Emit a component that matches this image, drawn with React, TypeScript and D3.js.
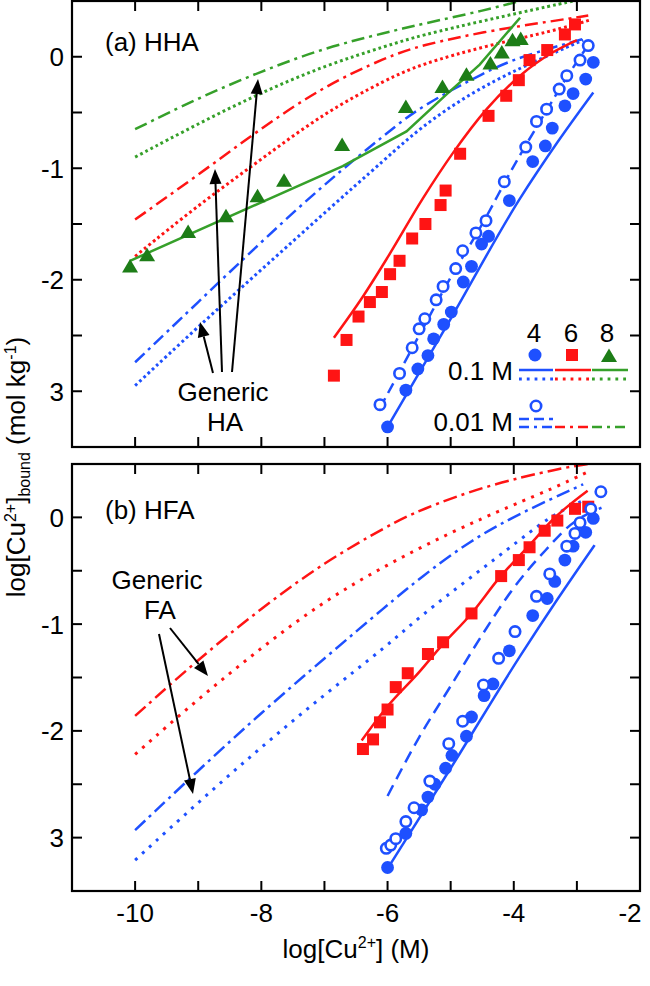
import React from 'react';
import * as d3 from 'd3';

type P = [number, number];

// ---------- axis ticks ----------
const xMinorTicks = [-10, -9, -8, -7, -6, -5, -4, -3];
const xLabelTicks = [-10, -8, -6, -4, -2];
const yMinorTicks = [0, -0.5, -1, -1.5, -2, -2.5, -3];
const yLabelTicks = [0, -1, -2, -3];
const yLabelTexts = ['0', '-1', '-2', '3'];

// ---------- (a) HHA data ----------
const hhaPH4_01: P[] = [[-6.0,-3.32],[-5.71,-2.99],[-5.52,-2.80],[-5.36,-2.68],[-5.27,-2.53],[-5.11,-2.40],[-4.99,-2.29],[-4.80,-2.02],[-4.67,-1.88],[-4.51,-1.68],[-4.40,-1.61],[-4.07,-1.29],[-3.70,-0.94],[-3.50,-0.80],[-3.39,-0.64],[-3.19,-0.44],[-3.06,-0.33],[-2.86,-0.20],[-2.74,-0.05]];
const hhaPH4_001: P[] = [[-6.12,-3.12],[-5.81,-2.84],[-5.61,-2.61],[-5.50,-2.44],[-5.41,-2.35],[-5.23,-2.18],[-5.12,-2.06],[-4.92,-1.90],[-4.81,-1.74],[-4.60,-1.58],[-4.44,-1.47],[-4.15,-1.12],[-3.81,-0.81],[-3.64,-0.58],[-3.48,-0.47],[-3.28,-0.29],[-3.16,-0.17],[-2.95,-0.03],[-2.82,0.10]];
const hhaPH6_01: P[] = [[-6.85,-2.86],[-6.65,-2.54],[-6.46,-2.33],[-6.28,-2.20],[-6.09,-2.11],[-5.96,-1.95],[-5.81,-1.83],[-5.61,-1.63],[-5.40,-1.50],[-5.16,-1.33],[-5.08,-1.20],[-4.85,-0.87],[-4.40,-0.53],[-4.12,-0.35],[-3.92,-0.21],[-3.75,-0.03],[-3.47,0.06],[-3.19,0.20],[-3.03,0.29]];
const hhaPH8_01: P[] = [[-10.08,-1.89],[-9.81,-1.79],[-9.16,-1.58],[-8.56,-1.44],[-8.06,-1.26],[-7.64,-1.12],[-6.72,-0.80],[-5.71,-0.46],[-5.13,-0.28],[-4.75,-0.17],[-4.37,-0.07],[-4.19,0.03],[-4.02,0.14],[-3.89,0.15]];

const hhaFit4_01: P[] = [[-6.0,-3.32],[-5.0,-2.35],[-3.9,-1.27],[-3.3,-0.76],[-2.74,-0.32]];
const hhaFit4_001: P[] = [[-6.12,-3.15],[-5.5,-2.5],[-5.0,-1.98],[-4.5,-1.5],[-4.0,-0.98],[-3.5,-0.5],[-3.2,-0.22],[-2.85,0.08]];
const hhaFit6_01: P[] = [[-6.85,-2.52],[-6.39,-2.15],[-6.0,-1.80],[-5.44,-1.27],[-4.96,-0.86],[-4.43,-0.47],[-3.90,-0.17],[-3.38,0.04],[-3.0,0.15]];
const hhaFit8_01: P[] = [[-10.08,-1.83],[-6.71,-0.98],[-5.7,-0.67],[-5.07,-0.34],[-4.54,-0.07],[-3.9,0.35]];

const hhaGen4_01: P[] = [[-10,-2.95],[-9,-2.42],[-8,-1.91],[-7,-1.40],[-6,-0.90],[-5.49,-0.64],[-4.7,-0.33],[-3.9,-0.10],[-3.22,0.07],[-2.9,0.15]];
const hhaGen4_001: P[] = [[-10,-2.74],[-9,-2.2],[-8,-1.66],[-7,-1.14],[-6,-0.68],[-5.49,-0.45],[-4.43,-0.13],[-3.9,0.0],[-2.9,0.16]];
const hhaGen6_01: P[] = [[-10,-1.79],[-9,-1.33],[-8,-0.92],[-7,-0.50],[-6,-0.2],[-5.49,-0.07],[-4.43,0.10],[-3.38,0.23],[-2.79,0.33]];
const hhaGen6_001: P[] = [[-10,-1.46],[-9,-1.06],[-8,-0.64],[-7,-0.26],[-6,0.0],[-5.49,0.1],[-4.43,0.23],[-3.38,0.32],[-2.82,0.37]];
const hhaGen8_01: P[] = [[-10,-0.9],[-9,-0.6],[-8,-0.32],[-7,-0.08],[-6,0.1],[-5.49,0.19],[-4.43,0.33],[-3.38,0.46],[-2.9,0.52]];
const hhaGen8_001: P[] = [[-10,-0.65],[-9,-0.37],[-8,-0.13],[-7,0.08],[-6,0.22],[-5.49,0.29],[-4.43,0.42],[-3.9,0.5],[-3.5,0.56]];

// ---------- (b) HFA data ----------
const hfaPH4_01: P[] = [[-6.0,-3.28],[-5.71,-2.96],[-5.46,-2.74],[-5.36,-2.62],[-5.25,-2.50],[-5.08,-2.35],[-4.98,-2.23],[-4.75,-2.05],[-4.67,-1.87],[-4.47,-1.67],[-4.33,-1.56],[-4.07,-1.25],[-3.70,-0.92],[-3.47,-0.76],[-3.35,-0.60],[-3.19,-0.40],[-3.06,-0.27],[-2.86,-0.14],[-2.74,-0.01]];
const hfaPH4_001: P[] = [[-6.02,-3.10],[-5.95,-3.07],[-5.87,-3.01],[-5.71,-2.85],[-5.58,-2.72],[-5.33,-2.47],[-5.03,-2.12],[-4.81,-1.91],[-4.48,-1.57],[-4.24,-1.32],[-3.98,-1.07],[-3.64,-0.74],[-3.43,-0.53],[-3.16,-0.27],[-3.03,-0.15],[-2.95,-0.05],[-2.78,0.08],[-2.62,0.24]];
const hfaPH6_01: P[] = [[-6.39,-2.17],[-6.23,-2.08],[-6.12,-1.92],[-6.0,-1.80],[-5.87,-1.59],[-5.68,-1.46],[-5.36,-1.28],[-5.12,-1.17],[-4.67,-0.90],[-4.20,-0.55],[-3.92,-0.40],[-3.75,-0.28],[-3.51,-0.125],[-3.31,-0.03],[-3.03,0.08],[-2.82,0.10]];

const hfaFit4_01: P[] = [[-6.0,-3.29],[-5.0,-2.35],[-3.9,-1.30],[-3.3,-0.76],[-2.72,-0.26]];
const hfaFit4_001: P[] = [[-6.0,-2.61],[-5.5,-2.06],[-5.0,-1.58],[-4.5,-1.10],[-4.0,-0.66],[-3.5,-0.31],[-3.1,-0.07],[-2.61,0.09]];
const hfaFit6_01: P[] = [[-6.41,-2.09],[-6.0,-1.77],[-5.5,-1.45],[-5.17,-1.22],[-4.67,-0.90],[-4.22,-0.56],[-3.75,-0.26],[-3.38,-0.02],[-2.83,0.25]];

const hfaGen4_01: P[] = [[-10,-3.21],[-9,-2.67],[-8,-2.15],[-7,-1.66],[-6,-1.2],[-5.49,-0.93],[-4.7,-0.57],[-3.9,-0.21],[-3.38,0.03],[-2.85,0.17]];
const hfaGen4_001: P[] = [[-10,-2.93],[-9,-2.37],[-8,-1.83],[-7,-1.32],[-6,-0.82],[-5.49,-0.57],[-4.7,-0.22],[-3.9,0.04],[-2.9,0.31]];
const hfaGen6_01: P[] = [[-10,-2.22],[-9,-1.70],[-8,-1.22],[-7,-0.78],[-6,-0.44],[-5,-0.14],[-4,0.12],[-3.38,0.27],[-2.85,0.42]];
const hfaGen6_001: P[] = [[-10,-1.86],[-9,-1.33],[-8,-0.85],[-7,-0.42],[-6,-0.08],[-5.49,0.07],[-4.43,0.30],[-3.27,0.46],[-2.82,0.5]];

// ---------- styling ----------
const FONT = "'Liberation Sans', Arial, Helvetica, sans-serif";
const FS = 26;
const SFS = 16;
const BLUE = '#1e50ff';
const RED = '#ff1414';
const GREEN = '#36a02a';
const GREEN_M = '#1d7d17';
const LW = 2.5;
const DW = 3;
const DOT_A = '2.8,3';
const DOT_B = '3,6.5';
const DASHDOT = '13,5,3,5';
const DASH = '11,6';

const X0 = 72, X1 = 640;
const x = d3.scaleLinear().domain([-11, -2]).range([X0, X1]);
const yA = d3.scaleLinear().domain([-3.5, 0.5]).range([447, 1]);
const yB = d3.scaleLinear().domain([-3.5, 0.5]).range([891, 464]);

type Scale = d3.ScaleLinear<number, number>;
type CurveKind = 'linear' | 'mono' | 'basis';

function Curve({ data, y, color, dash, kind = 'mono', width = LW }: { data: P[]; y: Scale; color: string; dash?: string; kind?: CurveKind; width?: number }) {
  const c = kind === 'linear' ? d3.curveLinear : kind === 'basis' ? d3.curveBasis : d3.curveMonotoneX;
  const gen = d3.line<P>().x(d => x(d[0])).y(d => y(d[1])).curve(c);
  return <path d={gen(data) || ''} fill="none" stroke={color} strokeWidth={width} strokeDasharray={dash} />;
}

const triPath = 'M0,-8.5L8,5L-8,5Z';

function Markers({ data, y, kind }: { data: P[]; y: Scale; kind: 'dot' | 'ring' | 'sq' | 'tri' }) {
  return (
    <g>
      {data.map((d, i) => {
        const cx = x(d[0]), cy = y(d[1]);
        if (kind === 'dot') return <circle key={i} cx={cx} cy={cy} r={6.4} fill={BLUE} />;
        if (kind === 'ring') return <circle key={i} cx={cx} cy={cy} r={5.2} fill="white" stroke={BLUE} strokeWidth={2.6} />;
        if (kind === 'sq') return <rect key={i} x={cx - 6} y={cy - 6} width={12} height={12} fill={RED} />;
        return <path key={i} d={triPath} transform={`translate(${cx},${cy})`} fill={GREEN_M} />;
      })}
    </g>
  );
}

function Frame({ y, showLabels, top, bottom }: { y: Scale; showLabels: boolean; top: number; bottom: number }) {
  const L = 10;
  return (
    <g>
      {xMinorTicks.map(t => (
        <g key={'x' + t}>
          <line x1={x(t)} x2={x(t)} y1={top} y2={top + L} stroke="black" strokeWidth={2} />
          <line x1={x(t)} x2={x(t)} y1={bottom} y2={bottom - L} stroke="black" strokeWidth={2} />
        </g>
      ))}
      {yMinorTicks.map(t => (
        <g key={'y' + t}>
          <line x1={X0} x2={X0 + L} y1={y(t)} y2={y(t)} stroke="black" strokeWidth={2} />
          <line x1={X1} x2={X1 - L} y1={y(t)} y2={y(t)} stroke="black" strokeWidth={2} />
        </g>
      ))}
      {yLabelTicks.map((t, i) => (
        <text key={'yl' + t} x={64} y={y(t) + 9.5} textAnchor="end" fontFamily={FONT} fontSize={FS}>{yLabelTexts[i]}</text>
      ))}
      {showLabels && xLabelTicks.map(t => {
        const px = Math.min(x(t), 630);
        return <text key={'xl' + t} x={px} y={bottom + 31} textAnchor="middle" fontFamily={FONT} fontSize={FS}>{String(t)}</text>;
      })}
      <rect x={X0} y={top} width={X1 - X0} height={bottom - top} fill="none" stroke="black" strokeWidth={2.2} />
    </g>
  );
}

function Arrow({ x1, y1, x2, y2 }: { x1: number; y1: number; x2: number; y2: number }) {
  const a = Math.atan2(y2 - y1, x2 - x1);
  const hl = 15, hw = 6;
  const bx = x2 - hl * Math.cos(a), by = y2 - hl * Math.sin(a);
  const px = -Math.sin(a) * hw, py = Math.cos(a) * hw;
  return (
    <g>
      <line x1={x1} y1={y1} x2={bx} y2={by} stroke="black" strokeWidth={2} />
      <path d={`M${x2},${y2}L${bx + px},${by + py}L${bx - px},${by - py}Z`} fill="black" />
    </g>
  );
}

export default function App() {
  return (
    <svg width={650} height={986} style={{ position: 'absolute', left: 0, top: 0, background: 'white' }}>
      <defs>
        <clipPath id="clipA"><rect x={X0} y={1} width={X1 - X0} height={446} /></clipPath>
        <clipPath id="clipB"><rect x={X0} y={464} width={X1 - X0} height={427} /></clipPath>
      </defs>

      {/* ---------- panel (a) ---------- */}
      <g clipPath="url(#clipA)">
        <Curve data={hhaGen8_001} y={yA} color={GREEN} dash={DASHDOT} kind="basis" />
        <Curve data={hhaGen8_01} y={yA} color={GREEN} dash={DOT_A} width={DW} kind="basis" />
        <Curve data={hhaGen6_001} y={yA} color={RED} dash={DASHDOT} kind="basis" />
        <Curve data={hhaGen6_01} y={yA} color={RED} dash={DOT_A} width={DW} kind="basis" />
        <Curve data={hhaGen4_001} y={yA} color={BLUE} dash={DASHDOT} kind="basis" />
        <Curve data={hhaGen4_01} y={yA} color={BLUE} dash={DOT_A} width={DW} kind="basis" />
        <Curve data={hhaFit8_01} y={yA} color={GREEN} kind="linear" />
        <Curve data={hhaFit6_01} y={yA} color={RED} />
        <Curve data={hhaFit4_01} y={yA} color={BLUE} />
        <Curve data={hhaFit4_001} y={yA} color={BLUE} dash={DASH} />
        <Markers data={hhaPH8_01} y={yA} kind="tri" />
        <Markers data={hhaPH6_01} y={yA} kind="sq" />
        <Markers data={hhaPH4_01} y={yA} kind="dot" />
        <Markers data={hhaPH4_001} y={yA} kind="ring" />
      </g>
      <Frame y={yA} showLabels={false} top={1} bottom={447} />
      <text x={105} y={51} fontFamily={FONT} fontSize={FS}>(a) HHA</text>
      <text textAnchor="middle" fontFamily={FONT} fontSize={FS}>
        <tspan x={223} y={401}>Generic</tspan>
        <tspan x={225} y={431}>HA</tspan>
      </text>
      <Arrow x1={213} y1={373} x2={200} y2={322} />
      <Arrow x1={222} y1={372} x2={215} y2={169} />
      <Arrow x1={232} y1={372} x2={258} y2={79} />

      {/* legend */}
      <g fontFamily={FONT} fontSize={FS}>
        <text x={534} y={342} textAnchor="middle">4</text>
        <text x={571} y={342} textAnchor="middle">6</text>
        <text x={607} y={342} textAnchor="middle">8</text>
        <text x={513} y={380} textAnchor="end">0.1 M</text>
        <text x={513} y={431} textAnchor="end">0.01 M</text>
      </g>
      <circle cx={535} cy={355} r={6.5} fill={BLUE} />
      <rect x={566} y={349} width={12} height={12} fill={RED} />
      <path d={triPath} transform="translate(609,357)" fill={GREEN_M} />
      <circle cx={536} cy={406} r={5.2} fill="white" stroke={BLUE} strokeWidth={2.6} />
      <line x1={519} x2={553} y1={370} y2={370} stroke={BLUE} strokeWidth={LW} />
      <line x1={555} x2={591} y1={370} y2={370} stroke={RED} strokeWidth={LW} />
      <line x1={592} x2={628} y1={370} y2={370} stroke={GREEN} strokeWidth={LW} />
      <line x1={519} x2={553} y1={379} y2={379} stroke={BLUE} strokeWidth={DW} strokeDasharray="2.8,5" />
      <line x1={555} x2={591} y1={379} y2={379} stroke={RED} strokeWidth={DW} strokeDasharray="2.8,5" />
      <line x1={592} x2={628} y1={379} y2={379} stroke={GREEN} strokeWidth={DW} strokeDasharray="2.8,5" />
      <line x1={519} x2={553} y1={419} y2={419} stroke={BLUE} strokeWidth={LW} strokeDasharray="10,5" />
      <line x1={519} x2={553} y1={427} y2={427} stroke={BLUE} strokeWidth={LW} strokeDasharray="10,5,3,5" />
      <line x1={555} x2={591} y1={427} y2={427} stroke={RED} strokeWidth={LW} strokeDasharray="10,5,3,5" />
      <line x1={592} x2={628} y1={427} y2={427} stroke={GREEN} strokeWidth={LW} strokeDasharray="10,5,3,5" />

      {/* ---------- panel (b) ---------- */}
      <g clipPath="url(#clipB)">
        <Curve data={hfaGen6_001} y={yB} color={RED} dash="14,5,3,5" kind="basis" />
        <Curve data={hfaGen6_01} y={yB} color={RED} dash={DOT_B} width={DW} kind="basis" />
        <Curve data={hfaGen4_001} y={yB} color={BLUE} dash="14,5,3,5" kind="basis" />
        <Curve data={hfaGen4_01} y={yB} color={BLUE} dash={DOT_B} width={DW} kind="basis" />
        <Curve data={hfaFit6_01} y={yB} color={RED} />
        <Curve data={hfaFit4_01} y={yB} color={BLUE} />
        <Curve data={hfaFit4_001} y={yB} color={BLUE} dash="12,7" />
        <Markers data={hfaPH6_01} y={yB} kind="sq" />
        <Markers data={hfaPH4_01} y={yB} kind="dot" />
        <Markers data={hfaPH4_001} y={yB} kind="ring" />
      </g>
      <Frame y={yB} showLabels={true} top={464} bottom={891} />
      <text x={105} y={519} fontFamily={FONT} fontSize={FS}>(b) HFA</text>
      <text textAnchor="middle" fontFamily={FONT} fontSize={FS}>
        <tspan x={157} y={589}>Generic</tspan>
        <tspan x={160} y={619}>FA</tspan>
      </text>
      <Arrow x1={170} y1={628} x2={208} y2={676} />
      <Arrow x1={159} y1={634} x2={193} y2={794} />

      {/* axis titles */}
      <text x={356} y={958} textAnchor="middle" fontFamily={FONT} fontSize={FS}>
        log[Cu<tspan fontSize={SFS} dy={-10}>2+</tspan><tspan dy={10}>] (M)</tspan>
      </text>
      <text transform="translate(25,467) rotate(-90)" textAnchor="middle" fontFamily={FONT} fontSize={FS}>
        log[Cu<tspan fontSize={SFS} dy={-9}>2+</tspan><tspan dy={9}>]</tspan><tspan fontSize={SFS} dy={5}>bound</tspan><tspan dy={-5}>{' (mol kg'}</tspan><tspan fontSize={SFS} dy={-9}>-1</tspan><tspan dy={9}>)</tspan>
      </text>
    </svg>
  );
}
